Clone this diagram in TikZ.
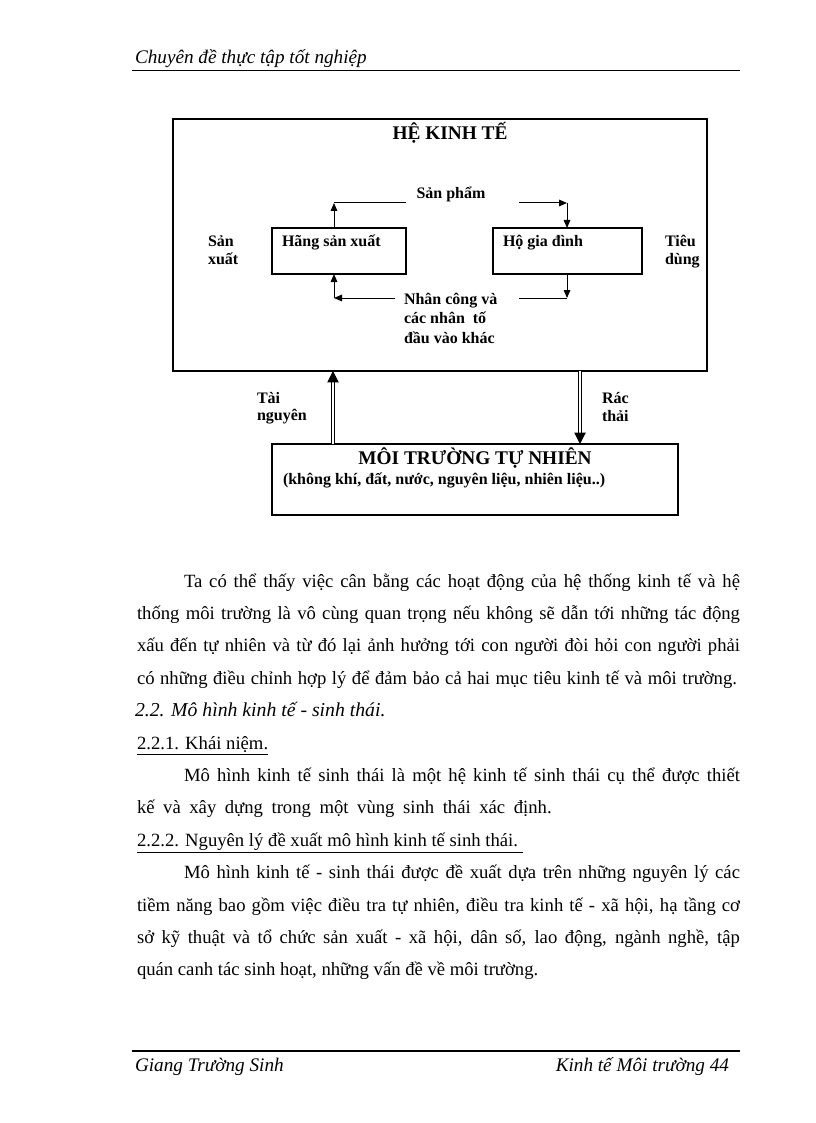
\documentclass[tikz,border=0pt]{standalone}
\usepackage{fontspec}
\setmainfont{Liberation Serif}
\usetikzlibrary{arrows.meta}
\begin{document}
\begin{tikzpicture}[x=0.75pt,y=-0.75pt,
  every node/.style={inner sep=0pt, outer sep=0pt},
  box/.style={draw, line width=0.8pt, inner sep=0pt},
  lab/.style={font=\fontsize{12pt}{14pt}\selectfont\bfseries, anchor=base west},
  head/.style={font=\fontsize{14.5pt}{17pt}\selectfont\bfseries, anchor=base},
  body/.style={font=\fontsize{14pt}{16pt}\selectfont, anchor=base west},
  ital/.style={font=\fontsize{14.4pt}{16pt}\selectfont\itshape, anchor=base west},
  arr/.style={line width=0.75pt, -{Triangle[length=6pt,width=5pt]}},
  ln/.style={line width=0.75pt},
  dbl/.style={double, double distance=1.9pt, line width=0.75pt, -{Triangle[length=8.5pt,width=8.5pt]}},
  rulel/.style={line width=1.3pt}
]
\path[use as bounding box, fill=white] (0,0) rectangle (816,1123);

% header
\node[ital] (hdr) at (135,63.5) {Chuyên đề thực tập tốt nghiệp};
\coordinate (hl) at (132,70.5); \coordinate (hr) at (740,70.5);
\draw[rulel] (hl) -- (hr);

% diagram boxes
\node[box, minimum width=400.5pt, minimum height=189pt] (eco) at (440,245) {};
\node[head] (ecot) at (450,140) {HỆ KINH TẾ};
\node[box, minimum width=100.5pt, minimum height=34.5pt] (hang) at (339,251) {};
\node[box, minimum width=111.75pt, minimum height=34.5pt] (ho) at (567.5,251) {};
\node[lab] (hangt) at (282,246) {Hãng sản xuất};
\node[lab] (hot) at (503,246) {Hộ gia đình};
\node[lab, anchor=base] (sp) at (451,199) {Sản phẩm};
\node[lab] (sx1) at (208,246) {Sản};
\node[lab] (sx2) at (208,264) {xuất};
\node[lab] (td1) at (665,246) {Tiêu};
\node[lab] (td2) at (665,264) {dùng};
\node[lab] (nc1) at (404,304) {Nhân công và};
\node[lab] (nc2) at (404,323.5) {các nhân\ \ tố};
\node[lab] (nc3) at (404,343) {đầu vào khác};

% inner flows
\coordinate (a1) at (334,203); \coordinate (a1e) at (406,203);
\draw[arr] (hang.north -| a1) -- (a1);
\draw[ln] (a1) -- (a1e);
\coordinate (a2s) at (519,203); \coordinate (a2) at (567,203);
\draw[arr] (a2s) -- (a2);
\draw[arr] (a2) -- (ho.north -| a2);
\coordinate (a3) at (567,298); \coordinate (a3e) at (519,298);
\draw[arr] (ho.south -| a3) -- (a3);
\draw[ln] (a3) -- (a3e);
\coordinate (a4s) at (395,298); \coordinate (a4) at (334,298);
\draw[arr] (a4s) -- (a4);
\draw[arr] (a4) -- (hang.south -| a4);

% environment
\node[box, minimum width=304.5pt, minimum height=53.25pt] (env) at (475,479.5) {};
\node[head] (envt) at (475,464.5) {MÔI TRƯỜNG TỰ NHIÊN};
\node[lab] (envs) at (283,484) {(không khí, đất, nước, nguyên liệu, nhiên liệu..)};
\node[lab] (tn1) at (257,403) {Tài};
\node[lab] (tn2) at (257,420.5) {nguyên};
\node[lab] (rt1) at (602,403) {Rác};
\node[lab] (rt2) at (602,421) {thải};
\coordinate (tn) at (333,0); \coordinate (rt) at (580,0);
\draw[dbl] (env.north -| tn) -- (eco.south -| tn);
\draw[dbl] (eco.south -| rt) -- (env.north -| rt);

% body text
\node[body] (l1) at (184,587) {\makebox[417pt][s]{Ta có thể thấy việc cân bằng các hoạt động của hệ thống kinh tế và hệ}};
\node[body] (l2) at (137,619.4) {\makebox[452.25pt][s]{thống môi trường là vô cùng quan trọng nếu không sẽ dẫn tới những tác động}};
\node[body] (l3) at (137,651.8) {\makebox[452.25pt][s]{xấu đến tự nhiên và từ đó lại ảnh hưởng tới con người đòi hỏi con người phải}};
\node[body] (l4) at (137,684.2) {\makebox[450pt][s]{có những điều chỉnh hợp lý để đảm bảo cả hai mục tiêu kinh tế và môi trường.}};
\node[ital, font=\fontsize{14.8pt}{16pt}\selectfont\itshape] (l5) at (135,716.6) {2.2. Mô hình kinh tế - sinh thái.};
\node[body] (l6) at (137,749) {\underline{2.2.1. Khái niệm.}};
\node[body] (l7) at (184,781.4) {\makebox[417pt][s]{Mô hình kinh tế sinh thái là một hệ kinh tế sinh thái cụ thể được thiết}};
\node[body] (l8) at (137,813.8) {\makebox[311pt][s]{kế và xây dựng trong một vùng sinh thái xác định.}};
\node[body] (l9) at (137,846.2) {\underline{2.2.2. Nguyên lý đề xuất mô hình kinh tế sinh thái.\ }};
\node[body] (l10) at (184,878.6) {\makebox[417pt][s]{Mô hình kinh tế - sinh thái được đề xuất dựa trên những nguyên lý các}};
\node[body] (l11) at (137,911) {\makebox[452.25pt][s]{tiềm năng bao gồm việc điều tra tự nhiên, điều tra kinh tế - xã hội, hạ tầng cơ}};
\node[body] (l12) at (137,943.4) {\makebox[452.25pt][s]{sở kỹ thuật và tổ chức sản xuất - xã hội, dân số, lao động, ngành nghề, tập}};
\node[body] (l13) at (137,975.8) {quán canh tác sinh hoạt, những vấn đề về môi trường.};

% footer
\coordinate (fl) at (132,1051); \coordinate (fr) at (740,1051);
\draw[rulel] (fl) -- (fr);
\node[ital] (ft1) at (135,1071) {Giang Trường Sinh};
\node[ital, anchor=base east] (ft2) at (729,1071) {Kinh tế Môi trường 44};
\end{tikzpicture}
\end{document}
